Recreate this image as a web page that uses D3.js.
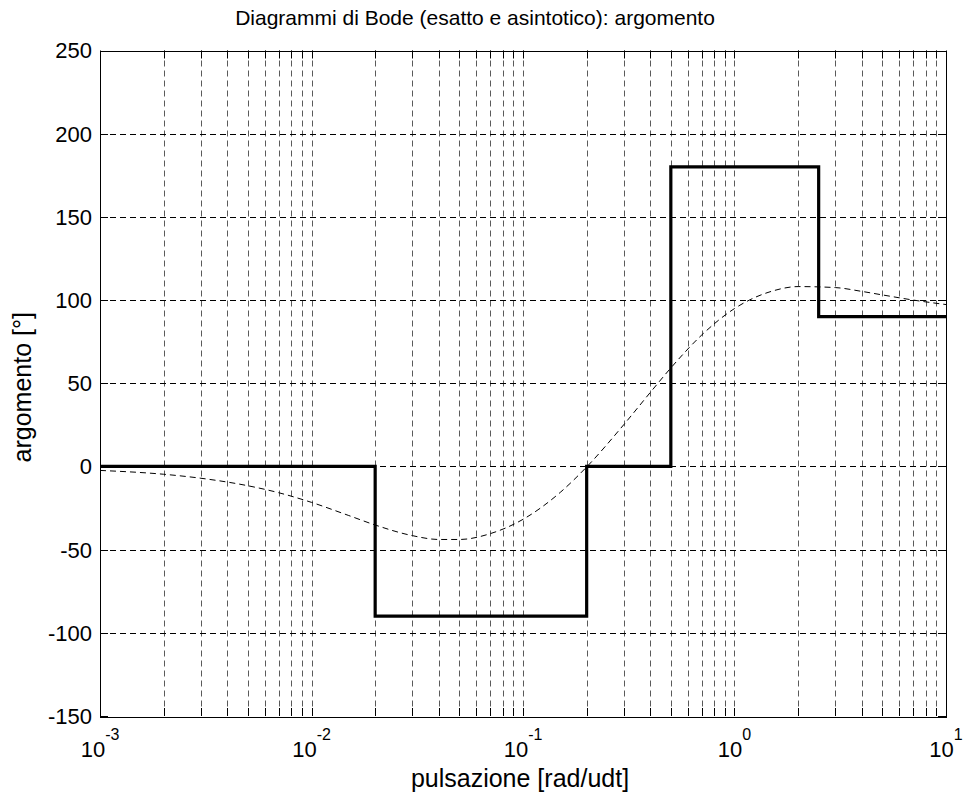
<!DOCTYPE html>
<html>
<head>
<meta charset="utf-8">
<script src="https://cdn.jsdelivr.net/npm/d3@7"></script>
<style>
  body { margin: 0; background: #fff; }
  text { font-family: "Liberation Sans", Arial, sans-serif; fill: #000; }
</style>
</head>
<body>
<svg id="chart" width="967" height="800"></svg>
<script>
// asymptotic phase: breakpoints (rad/udt) and phase value holding from each one
const stepFreqs = [0.001, 0.02, 0.2, 0.5, 2.5, 10];
const stepPhase = [0, -90, 0, 180, 90, 90];

// exact phase
const exactFreqs = [0.001, 0.002, 0.003, 0.005, 0.007, 0.01, 0.015, 0.02, 0.03, 0.04, 0.05, 0.07,
  0.1, 0.15, 0.2, 0.3, 0.4, 0.5, 0.7, 1, 1.5, 2, 3, 4, 5, 7, 10];
const exactPhase = [-2.4, -4.7, -7.1, -11.6, -15.8, -21.6, -29.5, -35.2, -41.6, -43.9, -43.9, -40.4,
  -31.8, -15.6, -0.3, 25.2, 44.5, 59.2, 79.0, 94.9, 105.3, 108.1, 107.5, 105.2, 103.1, 100.0, 97.3];

const yTicks = [-150, -100, -50, 0, 50, 100, 150, 200, 250];
const xDecades = [-3, -2, -1, 0, 1];

const svg = d3.select("#chart");
const margin = { top: 50.5, right: 21, bottom: 84, left: 100 };
const width = 967, height = 800;

const x = d3.scaleLog().domain([1e-3, 10]).range([margin.left, width - margin.right]);
const y = d3.scaleLinear().domain([-150, 250]).range([height - margin.bottom, margin.top]);

const [x0, x1] = x.range();
const [y0, y1] = y.range();

const minorFreqs = [];
xDecades.slice(0, -1).forEach((e) => {
  for (let k = 1; k <= 9; k++) minorFreqs.push(k * Math.pow(10, e));
});
minorFreqs.push(10);

const grid = svg.append("g").attr("fill", "none").attr("stroke-dasharray", "6,4");

grid.selectAll("line.v")
  .data(minorFreqs.filter((f) => f > 1e-3 && f < 10))
  .join("line")
  .attr("class", "v")
  .attr("x1", (d) => Math.round(x(d)) + 0.5)
  .attr("x2", (d) => Math.round(x(d)) + 0.5)
  .attr("y1", y1)
  .attr("y2", y0)
  .attr("stroke", "#5a5a5a");

grid.selectAll("line.h")
  .data(yTicks.slice(1, -1))
  .join("line")
  .attr("class", "h")
  .attr("x1", x0)
  .attr("x2", x1)
  .attr("y1", (d) => Math.round(y(d)) + 0.5)
  .attr("y2", (d) => Math.round(y(d)) + 0.5)
  .attr("stroke", "#000");

// axis box and inward ticks
const frame = svg.append("g").attr("stroke", "#000").attr("fill", "none");
frame.append("rect")
  .attr("x", x0 + 0.5).attr("y", Math.round(y1) + 0.5)
  .attr("width", Math.round(x1 - x0)).attr("height", Math.round(y0 - y1));

const tickLen = 8;
minorFreqs.forEach((f) => {
  const px = Math.round(x(f)) + 0.5;
  frame.append("line").attr("x1", px).attr("x2", px).attr("y1", y0).attr("y2", y0 - tickLen);
  frame.append("line").attr("x1", px).attr("x2", px).attr("y1", y1).attr("y2", y1 + tickLen);
});
yTicks.forEach((t) => {
  const py = Math.round(y(t)) + 0.5;
  frame.append("line").attr("x1", x0).attr("x2", x0 + tickLen).attr("y1", py).attr("y2", py);
  frame.append("line").attr("x1", x1).attr("x2", x1 - tickLen).attr("y1", py).attr("y2", py);
});

// exact curve
const exactLine = d3.line()
  .x((d) => x(d[0]))
  .y((d) => y(d[1]))
  .curve(d3.curveMonotoneX);

svg.append("path")
  .datum(d3.zip(exactFreqs, exactPhase))
  .attr("d", exactLine)
  .attr("fill", "none")
  .attr("stroke", "#000")
  .attr("stroke-width", 1)
  .attr("stroke-dasharray", "6,4");

// asymptotic step curve
const stepLine = d3.line()
  .x((d) => x(d[0]))
  .y((d) => y(d[1]))
  .curve(d3.curveStepAfter);

svg.append("path")
  .datum(d3.zip(stepFreqs, stepPhase))
  .attr("d", stepLine)
  .attr("fill", "none")
  .attr("stroke", "#000")
  .attr("stroke-width", 3.2);

// tick labels
svg.append("g").selectAll("text")
  .data(yTicks)
  .join("text")
  .attr("x", x0 - 8)
  .attr("y", (d) => y(d))
  .attr("dy", "0.36em")
  .attr("text-anchor", "end")
  .attr("font-size", 22)
  .text((d) => d);

const xl = svg.append("g").selectAll("text")
  .data(xDecades)
  .join("text")
  .attr("x", (d) => x(Math.pow(10, d)))
  .attr("y", 757)
  .attr("text-anchor", "middle")
  .attr("font-size", 22);
xl.append("tspan").text("10");
xl.append("tspan").attr("dy", -17).attr("font-size", 16).text((d) => d);

svg.append("text")
  .attr("x", 475)
  .attr("y", 25)
  .attr("text-anchor", "middle")
  .attr("font-size", 21)
  .text("Diagrammi di Bode (esatto e asintotico): argomento");

svg.append("text")
  .attr("x", 520)
  .attr("y", 787)
  .attr("text-anchor", "middle")
  .attr("font-size", 25)
  .text("pulsazione [rad/udt]");

svg.append("text")
  .attr("transform", `translate(31,${(y0 + y1) / 2 + 4}) rotate(-90)`)
  .attr("text-anchor", "middle")
  .attr("font-size", 25)
  .text("argomento [°]");
</script>
</body>
</html>
